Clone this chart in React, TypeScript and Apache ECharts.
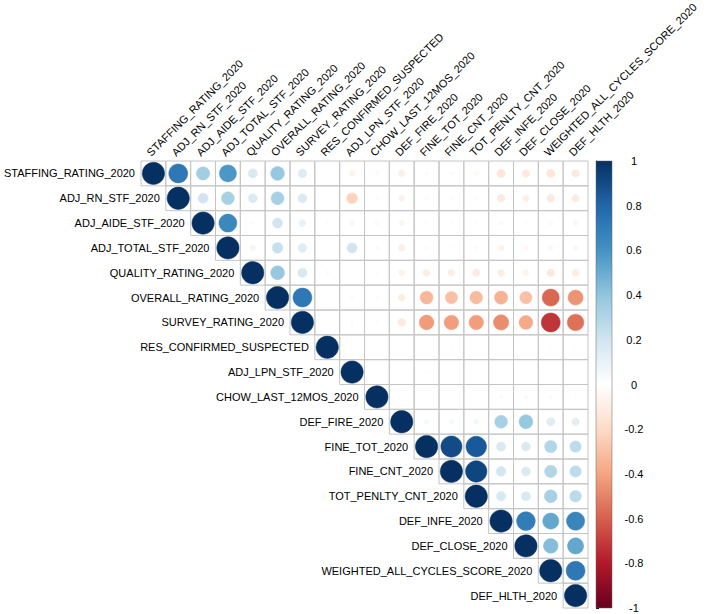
import React, { useEffect, useRef } from 'react';
import * as echarts from 'echarts';

const labels = [
  'STAFFING_RATING_2020',
  'ADJ_RN_STF_2020',
  'ADJ_AIDE_STF_2020',
  'ADJ_TOTAL_STF_2020',
  'QUALITY_RATING_2020',
  'OVERALL_RATING_2020',
  'SURVEY_RATING_2020',
  'RES_CONFIRMED_SUSPECTED',
  'ADJ_LPN_STF_2020',
  'CHOW_LAST_12MOS_2020',
  'DEF_FIRE_2020',
  'FINE_TOT_2020',
  'FINE_CNT_2020',
  'TOT_PENLTY_CNT_2020',
  'DEF_INFE_2020',
  'DEF_CLOSE_2020',
  'WEIGHTED_ALL_CYCLES_SCORE_2020',
  'DEF_HLTH_2020',
];

// Upper-triangle correlations: row i lists values for columns i..17
const upperRows: number[][] = [
  [1, 0.72, 0.35, 0.58, 0.17, 0.38, 0.15, 0.0, -0.07, -0.04, -0.09, -0.03, -0.03, -0.04, -0.14, -0.12, -0.14, -0.12],
  [1, 0.2, 0.33, 0.16, 0.33, 0.16, 0.0, -0.23, -0.03, -0.08, -0.03, -0.03, -0.03, -0.12, -0.09, -0.12, -0.11],
  [1, 0.65, 0.03, 0.2, 0.1, -0.03, 0.05, -0.04, -0.06, -0.02, -0.02, -0.02, -0.04, -0.02, -0.04, -0.05],
  [1, 0.06, 0.23, 0.15, -0.01, 0.2, -0.04, -0.09, -0.03, -0.02, -0.03, -0.07, -0.05, -0.05, -0.05],
  [1, 0.38, 0.17, 0.03, -0.02, -0.03, -0.07, -0.1, -0.1, -0.11, -0.1, -0.07, -0.12, -0.1],
  [1, 0.72, -0.01, -0.03, -0.03, -0.1, -0.33, -0.3, -0.32, -0.35, -0.3, -0.58, -0.45],
  [1, -0.01, -0.02, -0.02, -0.12, -0.43, -0.42, -0.42, -0.47, -0.38, -0.72, -0.55],
  [1, 0.0, 0.01, 0.0, 0.02, 0.02, 0.01, -0.01, 0.01, 0.02, 0.02],
  [1, 0.01, 0.0, 0.02, 0.01, 0.01, 0.01, 0.0, 0.01, 0.01],
  [1, 0.01, 0.01, 0.01, 0.01, 0.03, 0.03, 0.03, 0.02],
  [1, 0.05, 0.05, 0.06, 0.33, 0.38, 0.14, 0.12],
  [1, 0.9, 0.85, 0.17, 0.16, 0.3, 0.26],
  [1, 0.92, 0.19, 0.16, 0.3, 0.26],
  [1, 0.18, 0.17, 0.33, 0.27],
  [1, 0.7, 0.52, 0.66],
  [1, 0.43, 0.52],
  [1, 0.72],
  [1],
];

const colorbarMin = -1;
const colorbarMax = 1;
const colorbarStep = 0.2;

const palette = ['#67001F', '#B2182B', '#D6604D', '#F4A582', '#FDDBC7', '#FFFFFF', '#D1E5F0', '#92C5DE', '#4393C3', '#2166AC', '#053061'];

function hexToRgb(h: string): number[] {
  const n = parseInt(h.slice(1), 16);
  return [(n >> 16) & 255, (n >> 8) & 255, n & 255];
}

function colorFor(v: number): string {
  const t = ((v + 1) / 2) * (palette.length - 1);
  const i = Math.max(0, Math.min(palette.length - 2, Math.floor(t)));
  const f = t - i;
  const a = hexToRgb(palette[i]);
  const b = hexToRgb(palette[i + 1]);
  const c = a.map((x, k) => Math.round(x + (b[k] - x) * f));
  return `rgb(${c[0]},${c[1]},${c[2]})`;
}

const FONT = '"Liberation Sans", Arial, Helvetica, sans-serif';

export default function App() {
  const ref = useRef<HTMLDivElement>(null);

  useEffect(() => {
    if (!ref.current) return;
    const chart = echarts.init(ref.current, undefined, { renderer: 'svg' });

    const cellData: any[] = [];
    upperRows.forEach((row, i) => {
      row.forEach((v, k) => {
        cellData.push([i + k, i, v]);
      });
    });
    const rowLabelData = labels.map((l, i) => [i, i, l]);
    const colLabelData = labels.map((l, j) => [j, 0, l]);

    const stops = palette
      .slice()
      .reverse()
      .map((c, k) => ({ offset: k / (palette.length - 1), color: c }));

    const option: any = {
      animation: false,
      backgroundColor: '#ffffff',
      grid: [
        { left: 141, top: 161, width: 447, height: 447 },
        { left: 596, top: 161, width: 16, height: 447 },
      ],
      xAxis: [
        { type: 'category', data: labels, gridIndex: 0, show: false },
        { type: 'value', gridIndex: 1, min: 0, max: 1, show: false },
      ],
      yAxis: [
        { type: 'category', data: labels, gridIndex: 0, inverse: true, show: false },
        {
          type: 'value',
          gridIndex: 1,
          position: 'right',
          min: colorbarMin,
          max: colorbarMax,
          interval: colorbarStep,
          axisLine: { show: true, lineStyle: { color: '#000', width: 1 } },
          axisTick: { show: true, length: 3, lineStyle: { color: '#000' } },
          splitLine: { show: false },
          axisLabel: {
            margin: 22,
            align: 'center',
            fontSize: 11,
            fontFamily: FONT,
            color: '#000',
            formatter: (v: number) => String(Number(v.toFixed(1))),
          },
        },
      ],
      series: [
        {
          type: 'custom',
          xAxisIndex: 0,
          yAxisIndex: 0,
          clip: false,
          data: cellData,
          renderItem: (params: any, api: any) => {
            const j = api.value(0);
            const i = api.value(1);
            const v = api.value(2);
            const c = api.coord([j, i]);
            const s = api.size([1, 1]);
            const w = s[0];
            const h = s[1];
            const col = colorFor(v);
            return {
              type: 'group',
              children: [
                {
                  type: 'rect',
                  shape: { x: c[0] - w / 2, y: c[1] - h / 2, width: w, height: h },
                  style: { fill: 'none', stroke: '#c4c4c4', lineWidth: 1 },
                },
                {
                  type: 'circle',
                  shape: { cx: c[0], cy: c[1], r: 0.45 * Math.sqrt(Math.abs(v)) * w },
                  style: { fill: col, stroke: col, lineWidth: 0.5 },
                },
              ],
            };
          },
        },
        {
          type: 'custom',
          xAxisIndex: 0,
          yAxisIndex: 0,
          clip: false,
          data: rowLabelData,
          renderItem: (params: any, api: any) => {
            const i = api.value(0);
            const c = api.coord([i, i]);
            const w = api.size([1, 1])[0];
            return {
              type: 'text',
              x: c[0] - w / 2 - 6,
              y: c[1],
              style: {
                text: labels[i],
                fill: '#000',
                fontSize: 11,
                fontFamily: FONT,
                align: 'right',
                verticalAlign: 'middle',
              },
            };
          },
        },
        {
          type: 'custom',
          xAxisIndex: 0,
          yAxisIndex: 0,
          clip: false,
          data: colLabelData,
          renderItem: (params: any, api: any) => {
            const j = api.value(0);
            const c = api.coord([j, 0]);
            const h = api.size([1, 1])[1];
            return {
              type: 'text',
              x: c[0] - 1,
              y: c[1] - h / 2 - 3,
              rotation: Math.PI / 4,
              style: {
                text: labels[j],
                fill: '#000',
                fontSize: 11,
                fontFamily: FONT,
                align: 'left',
                verticalAlign: 'bottom',
              },
            };
          },
        },
        {
          type: 'custom',
          xAxisIndex: 1,
          yAxisIndex: 1,
          clip: false,
          data: [[0, colorbarMin, 1, colorbarMax]],
          renderItem: (params: any, api: any) => {
            const p0 = api.coord([api.value(0), api.value(3)]);
            const p1 = api.coord([api.value(2), api.value(1)]);
            return {
              type: 'rect',
              shape: { x: p0[0], y: p0[1], width: p1[0] - p0[0], height: p1[1] - p0[1] },
              style: {
                fill: new echarts.graphic.LinearGradient(0, 0, 0, 1, stops),
                stroke: '#666',
                lineWidth: 0.5,
              },
            };
          },
        },
      ],
    };

    chart.setOption(option);
    return () => chart.dispose();
  }, []);

  return (
    <div
      ref={ref}
      style={{ position: 'fixed', left: 0, top: 0, width: 708, height: 614, background: '#fff' }}
    />
  );
}
